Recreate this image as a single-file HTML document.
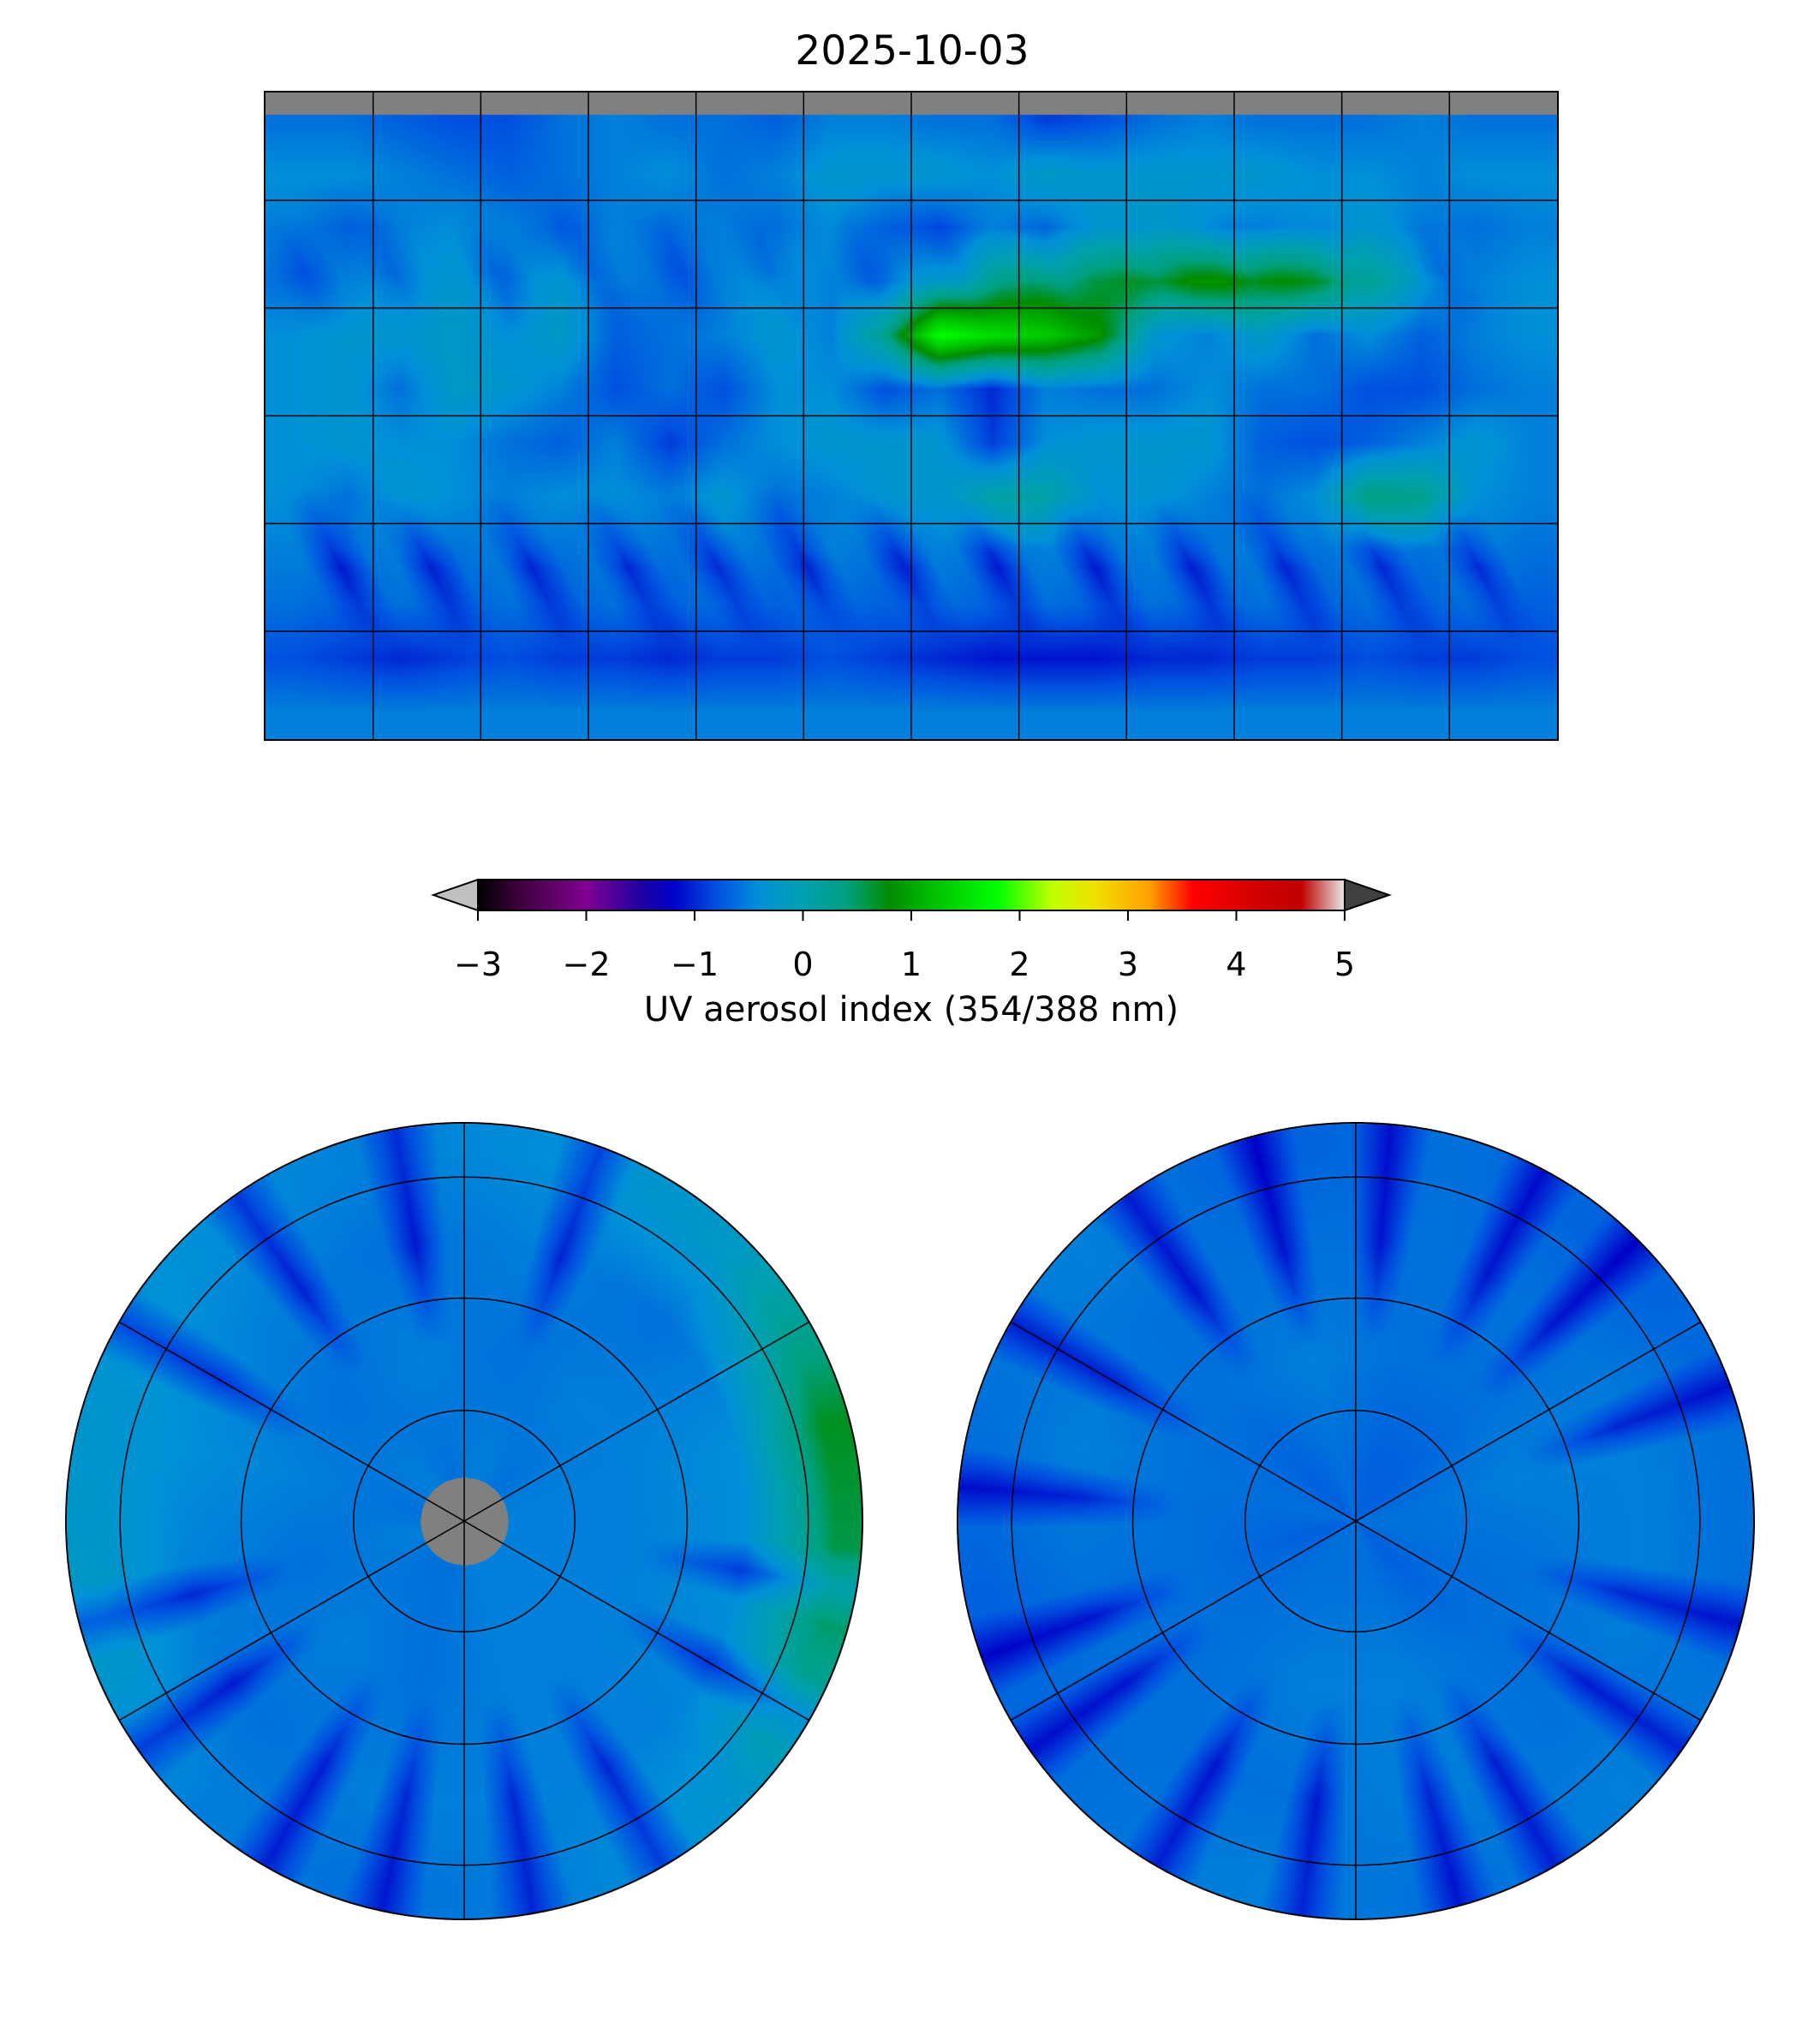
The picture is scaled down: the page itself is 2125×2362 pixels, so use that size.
<!DOCTYPE html>
<html><head><meta charset="utf-8"><style>
body{margin:0;background:#fff;width:2125px;height:2362px;position:relative;overflow:hidden;font-family:"DejaVu Sans","Liberation Sans",sans-serif;}
.abs{position:absolute}
canvas{position:absolute}
</style></head><body>
<div class="abs" style="left:0;width:2130px;top:32px;text-align:center;font-size:47px;color:#000">2025-10-03</div>
<canvas id="map" width="1508" height="755" style="left:310px;top:108px"></canvas>
<div class="abs" style="left:308px;top:106px;width:1508px;height:755px;border:2px solid #000"></div>
<svg class="abs" style="left:0;top:0" width="2125" height="2362" id="ov"></svg>
<canvas id="np" width="940" height="940" style="left:72px;top:1306px"></canvas>
<canvas id="sp" width="940" height="940" style="left:1113px;top:1306px"></canvas>
<svg class="abs" style="left:0;top:0" width="2125" height="2362" id="ov2"></svg>
<script>
const cmapVals=[-3,-2.6,-2,-1.5,-1.2,-0.8,-0.4,0,0.4,0.8,1.2,1.8,2.3,2.7,3.2,3.6,4.2,4.6,5];
const cmapCols=['#000000','#400040','#800090','#2000a0','#0000c8','#0050e0','#0090d8','#00a0b0','#00a080','#008c00','#00c000','#00ff00','#c0ff00','#f0e000','#ffa000','#ff0000','#d00000','#c00000','#e8e8e8'];
const cbTicks=[-3,-2,-1,0,1,2,3,4,5];
const cbTickLabels=['\u22123','\u22122','\u22121','0','1','2','3','4','5'];
const mapGrid=[
[-0.6,-0.6,-0.7,-0.8,-0.8,-0.6,-0.5,-0.6,-0.6,-0.7,-0.5,-0.5,-0.6,-0.6,-0.9,-0.8,-0.6,-0.5,-0.6,-0.6,-0.6,-0.5,-0.6,-0.6],
[-0.4,-0.4,-0.5,-0.6,-0.7,-0.6,-0.5,-0.4,-0.6,-0.5,-0.3,-0.3,-0.3,-0.4,-0.2,-0.3,-0.3,-0.3,-0.3,-0.4,-0.4,-0.5,-0.4,-0.4],
[-0.5,-0.7,-0.5,-0.4,-0.5,-0.7,-0.5,-0.6,-0.5,-0.6,-0.4,-0.7,-0.8,-0.5,-0.6,-0.3,-0.2,-0.4,-0.5,-0.4,-0.3,-0.5,-0.6,-0.5],
[-0.6,-0.5,-0.4,-0.3,-0.5,-0.3,-0.5,-0.6,-0.5,-0.3,-0.5,-0.5,-0.2,0.3,0.5,0.6,0.8,0.9,0.9,0.7,0.3,-0.3,-0.5,-0.4],
[-0.4,-0.3,-0.3,-0.2,-0.4,-0.2,-0.7,-0.6,-0.5,-0.3,-0.5,0.3,1.8,1.5,1.3,0.9,-0.3,-0.5,-0.2,-0.6,-0.4,-0.7,-0.5,-0.4],
[-0.4,-0.3,-0.6,-0.2,-0.3,-0.5,-0.8,-0.6,-0.8,-0.4,-0.4,-0.8,-0.6,-1.0,-0.5,-0.6,-0.6,-0.4,-0.6,-0.6,-0.8,-0.8,-0.6,-0.5],
[-0.4,-0.3,-0.4,-0.4,-0.6,-0.7,-0.5,-0.9,-0.6,-0.4,-0.3,-0.3,-0.3,-0.9,-0.4,-0.3,-0.3,-0.3,-0.7,-0.8,-0.7,-0.5,-0.3,-0.5],
[-0.4,-0.6,-0.3,-0.4,-0.5,-0.4,-0.4,-0.5,-0.3,-0.6,-0.5,-0.3,-0.3,0.1,0.1,-0.4,-0.3,-0.5,-0.6,-0.4,0.4,0.3,-0.4,-0.5],
[-0.5,-0.6,-0.5,-0.6,-0.5,-0.6,-0.5,-0.6,-0.5,-0.6,-0.5,-0.6,-0.5,-0.6,-0.5,-0.6,-0.5,-0.6,-0.5,-0.6,-0.5,-0.6,-0.5,-0.6],
[-0.6,-0.7,-0.6,-0.7,-0.6,-0.7,-0.6,-0.7,-0.6,-0.7,-0.6,-0.7,-0.6,-0.7,-0.6,-0.7,-0.6,-0.7,-0.6,-0.7,-0.6,-0.7,-0.6,-0.7],
[-0.8,-0.9,-1.0,-0.9,-0.8,-0.9,-0.9,-1.0,-0.9,-0.9,-0.8,-0.9,-1.0,-1.1,-1.1,-1.1,-1.0,-1.0,-0.9,-0.9,-0.8,-0.9,-0.9,-0.8],
[-0.5,-0.5,-0.5,-0.5,-0.5,-0.5,-0.5,-0.5,-0.5,-0.5,-0.5,-0.5,-0.5,-0.5,-0.5,-0.5,-0.5,-0.5,-0.5,-0.5,-0.5,-0.5,-0.5,-0.5]];
const swathLons=[-165,-140,-112,-85,-60,-35,-8,18,45,72,98,125,152];
const northGrid=[ // 12 sectors from east CCW, 4 radial bins
[-0.5,-0.5,-0.4,0.7],[-0.6,-0.5,-0.6,-0.2],[-0.5,-0.6,-0.5,-0.4],[-0.6,-0.5,-0.6,-0.5],
[-0.5,-0.6,-0.5,-0.4],[-0.6,-0.5,-0.4,-0.3],[-0.5,-0.6,-0.5,-0.2],[-0.6,-0.5,-0.6,-0.5],
[-0.6,-0.6,-0.5,-0.6],[-0.5,-0.5,-0.5,-0.5],[-0.5,-0.5,-0.5,-0.3],[-0.5,-0.5,-0.4,0.5]];
const southGrid=[
[-0.6,-0.5,-0.5,-0.6],[-0.7,-0.6,-0.6,-0.7],[-0.7,-0.6,-0.6,-0.6],[-0.6,-0.5,-0.6,-0.7],
[-0.7,-0.6,-0.6,-0.5],[-0.6,-0.6,-0.5,-0.6],[-0.7,-0.6,-0.6,-0.7],[-0.6,-0.6,-0.6,-0.6],
[-0.6,-0.5,-0.6,-0.5],[-0.6,-0.5,-0.5,-0.6],[-0.7,-0.6,-0.6,-0.5],[-0.6,-0.6,-0.5,-0.6]];
const northWedges=[70,100,125,150,195,215,240,258,280,300,330,350];
const southWedges=[20,45,62,85,105,125,150,175,200,215,240,262,285,300,325,345];

function hex(c){return [parseInt(c.slice(1,3),16),parseInt(c.slice(3,5),16),parseInt(c.slice(5,7),16)];}
const cmapRGB=cmapCols.map(hex);
function cmap(v){
  if(v<=cmapVals[0])return cmapRGB[0];
  for(let i=1;i<cmapVals.length;i++){if(v<=cmapVals[i]){const t=(v-cmapVals[i-1])/(cmapVals[i]-cmapVals[i-1]);const a=cmapRGB[i-1],b=cmapRGB[i];return [a[0]+(b[0]-a[0])*t,a[1]+(b[1]-a[1])*t,a[2]+(b[2]-a[2])*t];}}
  return cmapRGB[cmapRGB.length-1];
}
function gridVal(lon,lat){
  let c=(lon+180)/15-0.5,r=(90-lat)/15-0.5;
  c=Math.max(0,Math.min(22.999,c));r=Math.max(0,Math.min(10.999,r));
  const c0=Math.floor(c),r0=Math.floor(r),fc=c-c0,fr=r-r0;
  return mapGrid[r0][c0]*(1-fc)*(1-fr)+mapGrid[r0][c0+1]*fc*(1-fr)+mapGrid[r0+1][c0]*(1-fc)*fr+mapGrid[r0+1][c0+1]*fc*fr;
}
function swath(lon,lat){
  let d=0;
  for(const s of swathLons){
    let c=lat<0? s+(-lat-30)*0.5 : s-(lat-30)*0.4;
    let dl=Math.abs(((lon-c+540)%360)-180);
    if(dl<9){
      let w=lat<0? Math.max(0,1-Math.abs(lat+42)/22) : Math.max(0,1-Math.abs(lat-40)/18)*0.5;
      d=Math.min(d,-0.45*w*(1-dl/9));
    }
  }
  return d;
}
(function(){
  const cv=document.getElementById('map'),ctx=cv.getContext('2d');
  const W=cv.width,H=cv.height,img=ctx.createImageData(W,H);
  for(let y=0;y<H;y++){const lat=90-y/H*180;for(let x=0;x<W;x++){const lon=-180+x/W*360;let k=(y*W+x)*4;
    let col;
    if(lat>84)col=[128,128,128];else col=cmap(gridVal(lon,lat)+swath(lon,lat));
    img.data[k]=col[0];img.data[k+1]=col[1];img.data[k+2]=col[2];img.data[k+3]=255;}}
  ctx.putImageData(img,0,0);
})();
function polar(id,grid,wedges,gray){
  const cv=document.getElementById(id),ctx=cv.getContext('2d');
  const W=cv.width,R=465,cx=W/2,cy=W/2,img=ctx.createImageData(W,W);
  const rb=[0.14,0.42,0.71,0.93];
  for(let y=0;y<W;y++)for(let x=0;x<W;x++){
    const dx=x-cx,dy=cy-y,r=Math.sqrt(dx*dx+dy*dy)/R;if(r>1)continue;
    let ang=(Math.atan2(dy,dx)*180/Math.PI+360)%360;
    let s=ang/30-0.5;let s0=Math.floor(s),fs=s-s0;s0=(s0+12)%12;const s1=(s0+1)%12;
    let rr=0;while(rr<2&&r>rb[rr+1])rr++;let fr=Math.max(0,Math.min(1,(r-rb[rr])/(rb[rr+1]-rb[rr])));
    if(r<rb[0]){fr=0;}
    const v0=grid[s0][rr]*(1-fr)+grid[s0][rr+1]*fr,v1=grid[s1][rr]*(1-fr)+grid[s1][rr+1]*fr;
    let v=v0*(1-fs)+v1*fs;
    if(r>0.45)for(const w of wedges){let da=Math.abs(((ang-w+540)%360)-180);if(da<6)v-=0.5*(1-da/6)*Math.min(1,(r-0.45)/0.25);}
    let col=(gray&&r<0.11)?[128,128,128]:cmap(v);
    const k=(y*W+x)*4;img.data[k]=col[0];img.data[k+1]=col[1];img.data[k+2]=col[2];img.data[k+3]=255;}
  ctx.putImageData(img,0,0);
}
polar('np',northGrid,northWedges,true);
polar('sp',southGrid,southWedges,false);

const NS='http://www.w3.org/2000/svg';
function el(svg,tag,attrs){const e=document.createElementNS(NS,tag);for(const k in attrs)e.setAttribute(k,attrs[k]);svg.appendChild(e);return e;}
const ov=document.getElementById('ov');
const MX=310,MY=108,MW=1508,MH=755;
for(let i=1;i<12;i++){const x=MX+i*MW/12;const l=el(ov,'line',{x1:x,y1:MY,x2:x,y2:MY+MH,stroke:'#000','stroke-width':1.5});

}
for(let j=1;j<6;j++){const y=MY+j*MH/6;const l=el(ov,'line',{x1:MX,y1:y,x2:MX+MW,y2:y,stroke:'#000','stroke-width':1.5});

}
const cbx0=558,cbx1=1570,cby0=1027,cby1=1063;
const defs=el(ov,'defs',{});const lg=el(defs,'linearGradient',{id:'cbg',x1:0,x2:1,y1:0,y2:0});
cmapVals.forEach((v,i)=>{el(lg,'stop',{offset:((v+3)/8*100)+'%','stop-color':cmapCols[i]});});
const cb=el(ov,'rect',{x:cbx0,y:cby0,width:cbx1-cbx0,height:cby1-cby0,fill:'url(#cbg)',stroke:'#000','stroke-width':2});


const tl=el(ov,'polygon',{points:`${cbx0},${cby0} ${cbx0},${cby1} 506,${(cby0+cby1)/2}`,fill:'#c0c0c0',stroke:'#000','stroke-width':2});


const tr=el(ov,'polygon',{points:`${cbx1},${cby0} ${cbx1},${cby1} 1622,${(cby0+cby1)/2}`,fill:'#404040',stroke:'#000','stroke-width':2});


cbTicks.forEach((v,i)=>{const x=cbx0+(v+3)/8*(cbx1-cbx0);
 el(ov,'line',{x1:x,y1:cby1,x2:x,y2:cby1+12,stroke:'#000','stroke-width':2});
 const t=el(ov,'text',{x:x,y:1139,'text-anchor':'middle','font-size':38,'font-family':'DejaVu Sans, Liberation Sans, sans-serif'});t.textContent=cbTickLabels[i];
 
 });
const cl=el(ov,'text',{x:1064,y:1192,'text-anchor':'middle','font-size':40,'font-family':'DejaVu Sans, Liberation Sans, sans-serif'});cl.textContent='UV aerosol index (354/388 nm)';


const ov2=document.getElementById('ov2');
[[542,1776],[1583,1776]].forEach((c,idx)=>{
 const R=465;
 [0.278,0.56,0.864].forEach(f=>{const ci=el(ov2,'circle',{cx:c[0],cy:c[1],r:R*f,fill:'none',stroke:'#000','stroke-width':1.5});
 
 });
 [90,30,-30].forEach(a=>{const r=a*Math.PI/180;const ln=el(ov2,'line',{x1:c[0]-R*Math.cos(r),y1:c[1]+R*Math.sin(r),x2:c[0]+R*Math.cos(r),y2:c[1]-R*Math.sin(r),stroke:'#000','stroke-width':1.5});
 
 });
 const b=el(ov2,'circle',{cx:c[0],cy:c[1],r:R,fill:'none',stroke:'#000','stroke-width':2});
 
 
});
</script>
</body></html>
